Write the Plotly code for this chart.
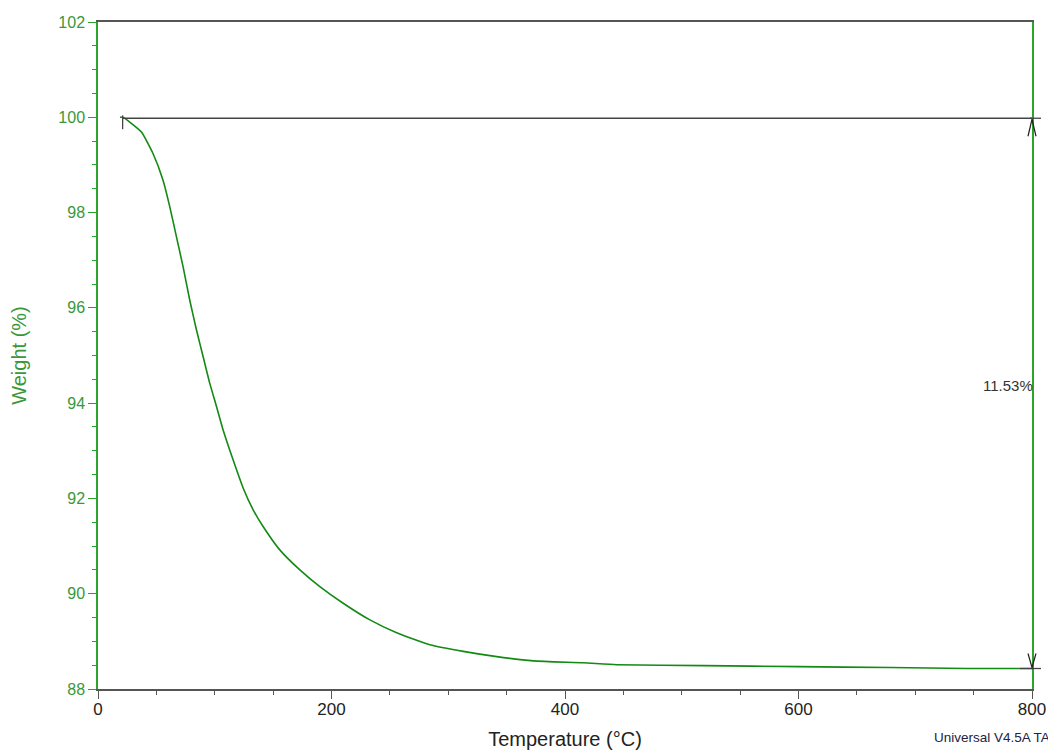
import plotly.graph_objects as go

# Temperature (°C) and weight (%)
temperature = [18.8, 21.4, 27.2, 37.2, 47.1, 55.7, 61.5, 67.2, 72.9, 78.6, 84.3, 90.0, 95.7, 101.5,
               107.1, 115.7, 124.3, 132.9, 141.4, 155.7, 172.9, 190.0, 210.0, 232.9,
               255.8, 284.3, 312.8, 341.5, 372.8, 415.7, 444.3, 518.6, 600.0, 678.6,
               744.3, 800.0]
weight = [100.0, 100.0, 99.90, 99.69, 99.24, 98.68, 98.12, 97.49, 96.86, 96.16, 95.54, 94.98, 94.42, 93.93,
          93.44, 92.81, 92.22, 91.76, 91.41, 90.92, 90.50, 90.15, 89.80, 89.45,
          89.18, 88.93, 88.79, 88.68, 88.59, 88.55, 88.51, 88.49, 88.47, 88.45,
          88.43, 88.43]

x_ticks = [0, 200, 400, 600, 800]
y_ticks = [88, 90, 92, 94, 96, 98, 100, 102]

step_start_T = 21.1
step_end_T = 800
step_top = 99.98
step_bottom = 88.43
step_label = "11.53%"
label_y = 94.38
footer = "Universal V4.5A TA"

GREEN_AXIS = "#2aa52a"
GREEN_TEXT = "#3a983a"
GREEN_LINE = "#138a13"
DARK = "#555555"
MARK = "#444444"

fig = go.Figure()
fig.add_trace(go.Scatter(x=temperature, y=weight, mode="lines",
                         line=dict(color=GREEN_LINE, width=1.6, shape="spline", smoothing=0.5),
                         showlegend=False, hoverinfo="x+y"))

shapes = [
    # horizontal step line at the start weight
    dict(type="line", xref="x", yref="y", x0=step_start_T, x1=step_end_T, y0=step_top, y1=step_top,
         line=dict(color=MARK, width=1.3)),
    # short extensions past the right edge
    dict(type="line", xref="paper", yref="y", xsizemode="pixel", xanchor=1, x0=-2, x1=9,
         y0=step_top, y1=step_top, line=dict(color=MARK, width=1.3)),
    dict(type="line", xref="paper", yref="y", xsizemode="pixel", xanchor=1, x0=-12, x1=9,
         y0=step_bottom, y1=step_bottom, line=dict(color=MARK, width=1.3)),
    # vertical start marker
    dict(type="line", xref="x", yref="y", x0=step_start_T, x1=step_start_T, y0=99.75, y1=100.04,
         line=dict(color=MARK, width=1.3)),
    # arrow heads (pixel offsets relative to anchor)
    dict(type="path", xref="paper", yref="y", xsizemode="pixel", ysizemode="pixel",
         xanchor=1, yanchor=step_top,
         path="M -4,-18 L 0,-1 L 4,-18", line=dict(color="#222222", width=1.2)),
    dict(type="path", xref="paper", yref="y", xsizemode="pixel", ysizemode="pixel",
         xanchor=1, yanchor=step_bottom,
         path="M -4,15 L 0,1 L 4,15", line=dict(color="#222222", width=1.2)),
]

fig.update_layout(
    width=1056, height=751,
    paper_bgcolor="white", plot_bgcolor="white",
    margin=dict(l=90, r=32, t=14, b=70),
    font=dict(family="Liberation Sans, Arial, sans-serif"),
    shapes=shapes,
    xaxis=dict(
        range=[0, 800], tickvals=x_ticks, ticks="outside", ticklen=8, tickwidth=1.3,
        tickcolor=DARK, showline=True, linecolor=DARK, linewidth=2, mirror=True,
        showgrid=False, zeroline=False, automargin=False, ticklabelstandoff=-4,
        tickfont=dict(size=17, color="#222222"),
        minor=dict(dtick=50, ticks="outside", ticklen=4, tickcolor=DARK, tickwidth=1.3, showgrid=False),
        title=dict(text="Temperature (°C)", font=dict(size=20, color="#222222"), standoff=14),
    ),
    yaxis=dict(
        range=[88, 102], tickvals=y_ticks, ticks="outside", ticklen=8, tickwidth=1.3,
        tickcolor=GREEN_AXIS, showline=True, linecolor=GREEN_AXIS, linewidth=1.5, mirror=True,
        showgrid=False, zeroline=False, automargin=False,
        tickfont=dict(size=16, color=GREEN_TEXT),
        minor=dict(dtick=0.5, ticks="outside", ticklen=4, tickcolor=GREEN_AXIS, tickwidth=1.3, showgrid=False),
        title=dict(text="Weight (%)", font=dict(size=20, color=GREEN_TEXT), standoff=26),
    ),
    annotations=[
        dict(x=step_end_T, y=label_y, xref="x", yref="y", text=step_label, showarrow=False,
             xanchor="right", yanchor="middle", xshift=3, font=dict(size=15, color="#333333")),
        dict(x=1, y=0, xref="paper", yref="paper", text=footer, showarrow=False,
             xanchor="right", yanchor="middle", xshift=20, yshift=-48,
             font=dict(size=13.5, color="#222244")),
    ],
)

fig.write_html("out.html")
